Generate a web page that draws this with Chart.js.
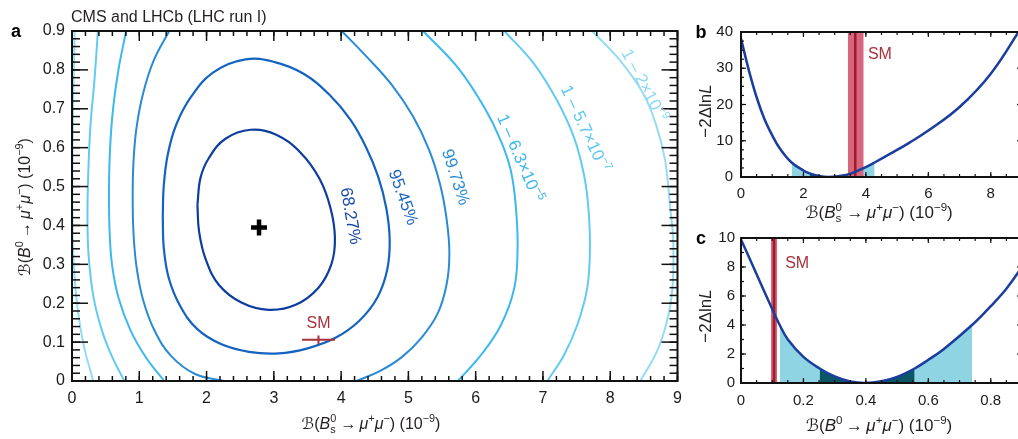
<!DOCTYPE html>
<html><head><meta charset="utf-8">
<script src="https://cdn.jsdelivr.net/npm/chart.js@4.4.1/dist/chart.umd.min.js"></script>
<style>
html,body{margin:0;padding:0;background:#fff;overflow:hidden;width:1018px;height:439px;position:relative}
canvas{position:absolute}
#ca{left:0;top:0}
#cb{left:690px;top:0}
#cc{left:690px;top:220px}
</style></head><body>
<canvas id="ca" width="690" height="439"></canvas>
<canvas id="cb" width="340" height="228"></canvas>
<canvas id="cc" width="340" height="219"></canvas>
<script>
// ---------------- DATA ----------------
// Panel a: contour lines, [B(Bs->mumu), B(B0->mumu)] in 1e-9
const c68 = [[1.864,0.453],[1.911,0.523],[2.037,0.574],[2.281,0.623],[2.654,0.646],[3.028,0.634],[3.398,0.587],[3.679,0.520],[3.842,0.445],[3.908,0.368],[3.857,0.301],[3.664,0.240],[3.324,0.196],[2.925,0.183],[2.525,0.201],[2.185,0.247],[1.985,0.314],[1.889,0.384]];
const c95 = [[1.349,0.422],[1.364,0.502],[1.423,0.582],[1.549,0.659],[1.771,0.731],[2.096,0.793],[2.580,0.827],[3.013,0.820],[3.442,0.790],[3.827,0.736],[4.138,0.672],[4.374,0.600],[4.552,0.525],[4.671,0.445],[4.722,0.363],[4.685,0.286],[4.537,0.214],[4.271,0.155],[3.916,0.111],[3.502,0.084],[3.072,0.071],[2.629,0.075],[2.214,0.095],[1.859,0.134],[1.608,0.193],[1.438,0.265],[1.364,0.343]];
const c99L = [[1.445,0.900],[1.209,0.822],[1.053,0.737],[0.957,0.649],[0.913,0.561],[0.902,0.471],[0.913,0.384],[0.957,0.296],[1.053,0.211],[1.223,0.131],[1.475,0.064],[1.830,0.018],[2.259,0.0]];
const c99R = [[4.009,0.900],[4.389,0.832],[4.759,0.760],[5.070,0.680],[5.306,0.595],[5.469,0.507],[5.565,0.420],[5.609,0.332],[5.572,0.252],[5.439,0.175],[5.203,0.113],[4.907,0.062],[4.581,0.026],[4.226,0.0]];
const c63L = [[0.805,0.900],[0.691,0.801],[0.609,0.698],[0.565,0.595],[0.550,0.492],[0.558,0.389],[0.595,0.299],[0.691,0.214],[0.868,0.131],[1.105,0.059],[1.371,0.0]];
const c63R = [[5.218,0.900],[5.735,0.806],[6.130,0.703],[6.376,0.617],[6.524,0.540],[6.598,0.446],[6.623,0.342],[6.574,0.239],[6.376,0.144],[6.080,0.067],[5.735,0.0]];
const c57L = [[0.385,0.900],[0.336,0.779],[0.272,0.651],[0.240,0.523],[0.230,0.415],[0.248,0.320],[0.320,0.215],[0.450,0.127],[0.607,0.058],[0.780,0.0]];
const c57R = [[6.426,0.900],[6.870,0.815],[7.214,0.720],[7.462,0.626],[7.609,0.531],[7.675,0.446],[7.698,0.342],[7.658,0.239],[7.510,0.144],[7.314,0.067],[7.066,0.0]];
const c2L = [[0.040,0.900],[0.018,0.724],[0.007,0.569],[0.007,0.415],[0.025,0.299],[0.077,0.196],[0.173,0.093],[0.315,0.0]];
const c2R = [[7.732,0.900],[8.151,0.823],[8.497,0.737],[8.694,0.652],[8.817,0.566],[8.891,0.446],[8.935,0.367],[8.925,0.239],[8.842,0.153],[8.694,0.076],[8.447,0.0]];
const bestFit = [2.78, 0.395];
const smPoint = [3.664, 0.106];
const smErrBs = [3.42, 3.91];
const smErrBd = [0.095, 0.117];
const contourNames = ['68.27%','95.45%','99.73%','1 \u2013 6.3\u00d710|\u22125','1 \u2013 5.7\u00d710|\u22127','1 \u2013 2\u00d710|\u22129'];
const contourLabelAt = [[4.155,0.425],[4.935,0.473],[5.715,0.525],[6.670,0.574],[7.640,0.649],[8.520,0.761]];
// Panel b: -2 Delta lnL vs B(Bs->mumu)
const bsX = [0, 0.25, 0.5, 0.75, 1.0, 1.25, 1.62, 2.0, 2.2, 2.5, 2.8, 3.1, 3.54, 4.0, 4.28, 4.8, 5.4, 6.0, 7.0, 8.0, 9.0];
const bsV = [38.2, 29.5, 22.0, 16.0, 11.5, 7.8, 4.0, 1.8, 1.0, 0.28, 0, 0.18, 1.0, 2.75, 4.0, 6.5, 9.5, 12.8, 19.3, 28.5, 41.5];
const bsSigma1 = [2.2, 3.54];
const bsSigma2 = [1.62, 4.28];
const bsSM = 3.66, bsSMband = [3.42, 3.93];
// Panel c: -2 Delta lnL vs B(B0->mumu)
const bdX = [0, 0.05, 0.1, 0.124, 0.15, 0.2, 0.252, 0.3, 0.35, 0.395, 0.45, 0.5, 0.556, 0.6, 0.65, 0.74, 0.8, 0.85, 0.9];
const bdV = [9.9, 7.5, 5.1, 4.0, 3.0, 1.8, 1.0, 0.45, 0.1, 0, 0.12, 0.42, 1.0, 1.6, 2.35, 4.0, 5.3, 6.5, 8.0];
const bdSigma1 = [0.252, 0.556];
const bdSigma2 = [0.124, 0.74];
const bdSM = 0.106, bdSMband = [0.096, 0.116];

// ---------------- HELPERS ----------------
const FAM = "'Liberation Sans', Arial, 'DejaVu Sans', sans-serif";
function fontStr(size, style, weight){ return `${style||'normal'} ${weight||'normal'} ${size}px ${FAM}`; }
function layoutRich(ctx, segs, size){
  let x=0; const items=[];
  for (const [t,k] of segs){
    if(k==='ss'){
      const [a,b]=t.split('|'); const s=size*0.68, f=fontStr(s); ctx.font=f;
      items.push({t:a,x,dy:-size*0.40,font:f});
      items.push({t:b,x,dy:size*0.24,font:f});
      x+=Math.max(ctx.measureText(a).width, ctx.measureText(b).width)+1;
    } else if(k==='sup'||k==='sub'){
      const s=size*0.68, f=fontStr(s); ctx.font=f;
      items.push({t,x,dy:k==='sup'?-size*0.40:size*0.24,font:f});
      x+=ctx.measureText(t).width;
    } else {
      const f=fontStr(size, k==='i'?'italic':'normal', k==='b'?'bold':'normal'); ctx.font=f;
      items.push({t,x,dy:0,font:f}); x+=ctx.measureText(t).width;
    }
  }
  return {items,width:x};
}
function drawRich(ctx, segs, x, y, size, color, rot, align){
  const L=layoutRich(ctx,segs,size);
  ctx.save(); ctx.translate(x,y); ctx.rotate((rot||0)*Math.PI/180);
  const x0 = align==='left'?0:(align==='right'?-L.width:-L.width/2);
  ctx.fillStyle=color; ctx.textBaseline='alphabetic'; ctx.textAlign='left';
  const base = size*0.36;
  for(const it of L.items){ ctx.font=it.font; ctx.fillText(it.t, x0+it.x, base+it.dy); }
  ctx.restore();
}
function labelSegs(name){
  const p=name.split('|');
  return p.length>1 ? [[p[0],''],[p[1],'sup']] : [[p[0],'']];
}
const textPlugin = {
  id:'texts',
  afterDraw(chart, args, opts){
    const ctx=chart.ctx;
    for(const it of (opts.items||[])){
      let x=it.x, y=it.y;
      if(it.data){ x=chart.scales.x.getPixelForValue(it.x); y=chart.scales.y.getPixelForValue(it.y); }
      drawRich(ctx, it.segs, x, y, it.size, it.color, it.rot||0, it.align||'center');
    }
  }
};
const frameTicks = {
  id:'frameTicks',
  afterDatasetsDraw(chart, args, o){
    const {ctx, chartArea:a, scales:{x,y}} = chart;
    ctx.save(); ctx.strokeStyle='#111'; ctx.lineWidth=o.lw; ctx.lineCap='butt';
    const seg=(x1,y1,x2,y2)=>{ctx.beginPath();ctx.moveTo(x1,y1);ctx.lineTo(x2,y2);ctx.stroke();};
    const loop=(sc,step,fn)=>{ const n=Math.round((sc.max-sc.min)/step+1e-6); for(let i=0;i<=n;i++){ fn(sc.getPixelForValue(sc.min+i*step)); } };
    loop(x,o.xMinor,px=>{seg(px,a.bottom,px,a.bottom-o.xLen[1]); seg(px,a.top,px,a.top+o.xLen[1]);});
    loop(x,o.xMajor,px=>{seg(px,a.bottom,px,a.bottom-o.xLen[0]); seg(px,a.top,px,a.top+o.xLen[0]);});
    loop(y,o.yMinor,py=>{seg(a.left,py,a.left+o.yLen[1],py); seg(a.right,py,a.right-o.yLen[1],py);});
    loop(y,o.yMajor,py=>{seg(a.left,py,a.left+o.yLen[0],py); seg(a.right,py,a.right-o.yLen[0],py);});
    ctx.lineWidth=o.frameW; ctx.strokeRect(a.left,a.top,a.width,a.height);
    ctx.restore();
  }
};
const pts = arr => arr.map(p=>({x:p[0], y:p[1]}));
function contourDS(arr, color, closed, w){
  const d=pts(arr); if(closed) d.push({...d[0]});
  return {data:d, showLine:true, borderColor:color, borderWidth:w||2, pointRadius:0, tension:0.4, fill:false, order:5};
}
function curvePts(xs, vs){ return xs.map((x,i)=>({x, y:vs[i]})); }
function bandPts(xs, vs, r){ return curvePts(xs,vs).filter(p=>p.x>=r[0]-1e-9 && p.x<=r[1]+1e-9); }
const fmt = v => v===0 ? '0' : String(+v.toFixed(2));
function axisCfg(min,max,step,size,pad,fitProp,fitVal){
  return {type:'linear', min, max,
    ticks:{stepSize:step, includeBounds:false, font:{family:FAM,size}, color:'#1a1a1a', padding:pad, callback:fmt, maxRotation:0, autoSkip:false},
    grid:{display:false, drawTicks:false}, border:{display:false},
    afterFit:s=>{ s[fitProp]=fitVal; }};
}
const baseOpts = {responsive:false, animation:false, devicePixelRatio:1, events:[]};

const titleBs = [['\u212C',''],['(',''],['B','i'],['0|s','ss'],['\u2009\u2192\u2009',''],['\u03BC','i'],['+','sup'],['\u03BC','i'],['\u2212','sup'],[') (10',''],['\u22129','sup'],[')','']];
const titleBd = [['\u212C',''],['(',''],['B','i'],['0','sup'],['\u2009\u2192\u2009',''],['\u03BC','i'],['+','sup'],['\u03BC','i'],['\u2212','sup'],[') (10',''],['\u22129','sup'],[')','']];
const titleLL = [['\u22122\u0394ln',''],['L','i']];
const INK='#231f20', SMC='#a8323a';

// ---------------- PANEL A ----------------
const cCols = ['#0d3e9f','#1563c0','#2a8bd5','#3cb8ee','#62cbf2','#95dbf6'];
const lCols = ['#1a48a8','#1f66c2','#2d8cd4','#3db6ec','#5fc8f0','#8ed8f4'];
const labelRot = [80, 70, 72, 67, 65, 62];
new Chart(document.getElementById('ca'), {
  type:'scatter',
  data:{datasets:[
    {data:[{x:bestFit[0],y:bestFit[1]}], pointStyle:'cross', pointRadius:8, borderWidth:4.5, borderColor:'#000', order:0},
    {data:pts([[smErrBs[0],smPoint[1]],[smErrBs[1],smPoint[1]]]), showLine:true, borderColor:SMC, borderWidth:2, pointRadius:0, order:1},
    {data:pts([[smPoint[0],smErrBd[0]],[smPoint[0],smErrBd[1]]]), showLine:true, borderColor:SMC, borderWidth:2, pointRadius:0, order:1},
    contourDS(c68, cCols[0], true, 2.2),
    contourDS(c95, cCols[1], true, 2.2),
    contourDS(c99L, cCols[2]), contourDS(c99R, cCols[2]),
    contourDS(c63L, cCols[3]), contourDS(c63R, cCols[3]),
    contourDS(c57L, cCols[4]), contourDS(c57R, cCols[4]),
    contourDS(c2L, cCols[5]), contourDS(c2R, cCols[5])
  ]},
  options:{...baseOpts,
    layout:{padding:{left:0, top:31, right:9, bottom:0}},
    scales:{ x:axisCfg(0,9,1,16,8,'height',58), y:axisCfg(0,0.9,0.1,16,7,'width',72) },
    plugins:{legend:{display:false}, tooltip:{enabled:false},
      frameTicks:{xMajor:1,xMinor:0.2,yMajor:0.1,yMinor:0.02,xLen:[10,5],yLen:[16,8],lw:1.5,frameW:2},
      texts:{items:[
        {segs:[['a','b']], x:16, y:31, size:18, color:'#000'},
        {segs:[['CMS and LHCb (LHC run I)','']], x:71, y:16, size:16, color:INK, align:'left'},
        {segs:titleBs, x:371, y:423, size:16, color:INK},
        {segs:titleBd, x:24, y:207, size:16, color:INK, rot:-90},
        {segs:[['SM','']], data:true, x:smPoint[0], y:0.152, size:16, color:SMC},
        ...contourNames.map((n,i)=>({segs:labelSegs(n), data:true, x:contourLabelAt[i][0], y:contourLabelAt[i][1], size:17, color:lCols[i], rot:labelRot[i]}))
      ]}
    }
  },
  plugins:[frameTicks, textPlugin]
});

// ---------------- PANEL B ----------------
const FILL2='#8fd4e3', FILL1='#0c5766', CURVE='#1a3d9e', BAND='#d6657d', BANDC='#9e1c28';
new Chart(document.getElementById('cb'), {
  type:'scatter',
  data:{datasets:[
    {data:curvePts(bsX,bsV), showLine:true, borderColor:CURVE, borderWidth:2.5, pointRadius:0, tension:0.4, order:0},
    {data:pts([[bsSM,0],[bsSM,40]]), showLine:true, borderColor:BANDC, borderWidth:2.5, pointRadius:0, order:1},
    {data:pts([[bsSMband[0],40],[bsSMband[1],40]]), showLine:true, borderWidth:0, borderColor:'rgba(0,0,0,0)', backgroundColor:BAND, fill:'origin', pointRadius:0, order:2},
    {data:bandPts(bsX,bsV,bsSigma1), showLine:true, borderWidth:0, borderColor:'rgba(0,0,0,0)', backgroundColor:FILL1, fill:'origin', pointRadius:0, tension:0.4, order:3},
    {data:bandPts(bsX,bsV,bsSigma2), showLine:true, borderWidth:0, borderColor:'rgba(0,0,0,0)', backgroundColor:FILL2, fill:'origin', pointRadius:0, tension:0.4, order:4}
  ]},
  options:{...baseOpts,
    layout:{padding:{left:0, top:32, right:8, bottom:0}},
    scales:{ x:axisCfg(0,9,2,15,8,'height',51), y:axisCfg(0,40,10,15,8,'width',51) },
    plugins:{legend:{display:false}, tooltip:{enabled:false},
      frameTicks:{xMajor:2,xMinor:0.5,yMajor:10,yMinor:2.5,xLen:[5,3],yLen:[5,3],lw:1.2,frameW:2},
      texts:{items:[
        {segs:[['b','b']], x:11, y:32, size:18, color:'#000'},
        {segs:titleBs, x:189, y:212, size:17, color:INK},
        {segs:titleLL, x:15, y:111, size:17, color:INK, rot:-90},
        {segs:[['SM','']], data:true, x:4.45, y:34.2, size:16, color:SMC}
      ]}
    }
  },
  plugins:[frameTicks, textPlugin]
});

// ---------------- PANEL C ----------------
new Chart(document.getElementById('cc'), {
  type:'scatter',
  data:{datasets:[
    {data:curvePts(bdX,bdV), showLine:true, borderColor:CURVE, borderWidth:2.5, pointRadius:0, tension:0.4, order:0},
    {data:pts([[bdSM,0],[bdSM,10]]), showLine:true, borderColor:BANDC, borderWidth:2.5, pointRadius:0, order:1},
    {data:pts([[bdSMband[0],10],[bdSMband[1],10]]), showLine:true, borderWidth:0, borderColor:'rgba(0,0,0,0)', backgroundColor:BAND, fill:'origin', pointRadius:0, order:2},
    {data:bandPts(bdX,bdV,bdSigma1), showLine:true, borderWidth:0, borderColor:'rgba(0,0,0,0)', backgroundColor:FILL1, fill:'origin', pointRadius:0, tension:0.4, order:3},
    {data:bandPts(bdX,bdV,bdSigma2), showLine:true, borderWidth:0, borderColor:'rgba(0,0,0,0)', backgroundColor:FILL2, fill:'origin', pointRadius:0, tension:0.4, order:4}
  ]},
  options:{...baseOpts,
    layout:{padding:{left:0, top:18, right:8, bottom:0}},
    scales:{ x:axisCfg(0,0.9,0.2,15,9,'height',56), y:axisCfg(0,10,2,15,6,'width',51) },
    plugins:{legend:{display:false}, tooltip:{enabled:false},
      frameTicks:{xMajor:0.2,xMinor:0.05,yMajor:2,yMinor:1,xLen:[5,3],yLen:[5,3],lw:1.2,frameW:2},
      texts:{items:[
        {segs:[['c','b']], x:11, y:18, size:18, color:'#000'},
        {segs:titleBd, x:189, y:205, size:17, color:INK},
        {segs:titleLL, x:15, y:96, size:17, color:INK, rot:-90},
        {segs:[['SM','']], data:true, x:0.180, y:8.33, size:16, color:SMC}
      ]}
    }
  },
  plugins:[frameTicks, textPlugin]
});
</script>
</body></html>
